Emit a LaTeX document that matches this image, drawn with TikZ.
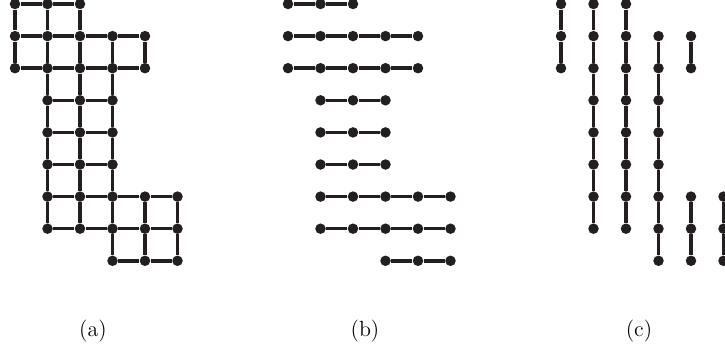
\documentclass[tikz,border=0pt]{standalone}
\definecolor{ink}{HTML}{231F20}
\tikzset{
  dot/.style={circle,fill=ink,inner sep=0pt,minimum size=2.1mm},
  edge/.style={line width=0.7mm,draw=ink},
  sublabel/.style={font=\fontsize{12.5}{15}\selectfont}
}
\begin{document}
\begin{tikzpicture}[x=0.2mm,y=-0.2mm]
\useasboundingbox (0,0) rectangle (725,354);
% vertices of all three panels
\foreach \p/\dx in {a/0,b/273,c/546}{
  \foreach \r/\lo/\hi in {0/0/2,1/0/4,2/0/4,3/1/3,4/1/3,5/1/3,6/1/5,7/1/5,8/3/5}{
    \foreach \c in {\lo,...,\hi}{
      \node[dot] (\p-\c-\r) at ({15+\dx+32.5*\c},{4+32.1*\r}) {};
    }
  }
}
% horizontal edges: panels (a) and (b)
\foreach \p in {a,b}{
  \foreach \r/\lo/\hi in {0/0/2,1/0/4,2/0/4,3/1/3,4/1/3,5/1/3,6/1/5,7/1/5,8/3/5}{
    \pgfmathtruncatemacro\hm{\hi-1}
    \foreach \c in {\lo,...,\hm}{
      \pgfmathtruncatemacro\cn{\c+1}
      \draw[edge] (\p-\c-\r) -- (\p-\cn-\r);
    }
  }
}
% vertical edges: panels (a) and (c)
\foreach \p in {a,c}{
  \foreach \c/\lo/\hi in {0/0/2,1/0/7,2/0/7,3/1/8,4/1/2,4/6/8,5/6/8}{
    \pgfmathtruncatemacro\hm{\hi-1}
    \foreach \r in {\lo,...,\hm}{
      \pgfmathtruncatemacro\rn{\r+1}
      \draw[edge] (\p-\c-\r) -- (\p-\c-\rn);
    }
  }
}
\node[sublabel] (la) at (93,331) {(a)};
\node[sublabel] (lb) at (365,331) {(b)};
\node[sublabel] (lc) at (639,331) {(c)};
\end{tikzpicture}
\end{document}
